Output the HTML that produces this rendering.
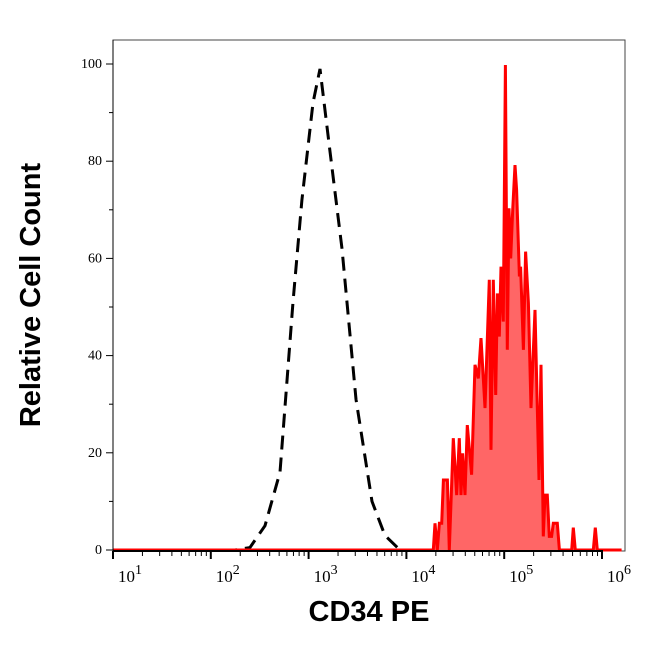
<!DOCTYPE html>
<html><head><meta charset="utf-8"><style>
body{margin:0;background:#fff;width:646px;height:641px;overflow:hidden}
text{font-family:"Liberation Serif",serif}
</style></head><body>
<svg id="chart" width="646" height="641" xmlns="http://www.w3.org/2000/svg">
<rect x="113" y="40" width="512" height="511" fill="none" stroke="#444" stroke-width="1"/>
<g id="marks"></g>
<g id="axes"></g>
<text x="30" y="295" dy="10" transform="rotate(-90 30 295)" text-anchor="middle" font-size="29" font-weight="bold" style="font-family:'Liberation Sans',sans-serif">Relative Cell Count</text>
<text x="369" y="621" text-anchor="middle" font-size="29" font-weight="bold" style="font-family:'Liberation Sans',sans-serif">CD34 PE</text>
</svg>
<script>
const isoLog=[1,2.247,2.40,2.554,2.708,2.840,2.932,3.045,3.117,3.219,3.342,3.485,3.648,3.78,3.935,6.2];
const isoVal=[0,0,0.5,5,16,51,72,92,99,82,62,31,10,3,0,0];
const cdLog=[1,4.275,4.292,4.316,4.337,4.361,4.378,4.419,4.439,4.480,4.514,4.541,4.558,4.575,4.599,4.623,4.667,4.701,4.735,4.763,4.804,4.848,4.865,4.889,4.913,4.930,4.950,4.967,4.991,5.012,5.032,5.049,5.066,5.087,5.110,5.127,5.155,5.168,5.196,5.219,5.247,5.274,5.315,5.356,5.376,5.400,5.417,5.441,5.461,5.485,5.502,5.543,5.564,5.690,5.707,5.727,5.911,5.932,5.952,6.2];
const cdVal=[0,0,5.5,0,5.5,5.5,14.4,14.4,0,23,11.3,23,11.3,19.9,11.3,25.7,15.5,38.1,35.3,43.6,29.2,55.6,20.6,55.6,31.9,52.8,43.9,58.3,47,99.8,41.2,70.3,60,70,79.2,74.1,56.3,58.3,41.2,61.4,50.8,29.2,49.4,14.4,38.1,2.8,11.3,11.3,2.8,2.8,5.5,5.5,0,0,4.6,0,0,4.6,0,0];
const yTicks=[0,20,40,60,80,100];
const xDecades=[1,2,3,4,5,6];
const NS="http://www.w3.org/2000/svg";
const X=l=>113+(l-1)*97.8;
const Y=v=>550-4.86*v;
const marks=document.getElementById('marks'),axes=document.getElementById('axes');
function mk(tag,attrs,parent){const e=document.createElementNS(NS,tag);for(const k in attrs)e.setAttribute(k,attrs[k]);parent.appendChild(e);return e;}
let d=isoLog.map((l,i)=>(i?'L':'M')+X(l).toFixed(1)+','+Y(isoVal[i]).toFixed(1)).join('');
const iso=mk('path',{d:d,fill:'none',stroke:'#000','stroke-width':3,'stroke-dasharray':'14,8'},marks);


let dc=cdLog.map((l,i)=>(i?'L':'M')+X(l).toFixed(1)+','+Y(cdVal[i]).toFixed(1)).join('');
const fill=mk('path',{d:dc+'L'+X(cdLog[cdLog.length-1])+','+Y(0)+'L'+X(cdLog[0])+','+Y(0)+'Z',fill:'#ff6666',stroke:'none'},marks);


const line=mk('path',{d:dc,fill:'none',stroke:'#ff0000','stroke-width':3,'stroke-linejoin':'miter'},marks);


mk('line',{x1:113,y1:551,x2:603,y2:551,stroke:'#000','stroke-width':2},axes);
mk('line',{x1:113,y1:40,x2:113,y2:551,stroke:'#000','stroke-width':1},axes);
yTicks.forEach(v=>{
  mk('line',{x1:106,x2:113,y1:Y(v),y2:Y(v),stroke:'#000'},axes);
  const t=mk('text',{x:102,y:Y(v)+4,'text-anchor':'end','font-size':14},axes);t.textContent=v;
  
  
  if(v<100)mk('line',{x1:109,x2:113,y1:Y(v+10),y2:Y(v+10),stroke:'#000'},axes);
});
xDecades.forEach(p=>{
  mk('line',{x1:X(p),x2:X(p),y1:551,y2:559,stroke:'#000','stroke-width':2},axes);
  if(p<6)for(let m=2;m<10;m++){const xx=X(p+Math.log10(m));mk('line',{x1:xx,x2:xx,y1:551,y2:556,stroke:'#000'},axes);}
  const t=mk('text',{x:X(p)+5,y:582,'font-size':17},axes);
  
  
  t.textContent='10';
  const s=mk('tspan',{dy:-8,'font-size':14},t);s.textContent=p;
});
</script>
</body></html>
